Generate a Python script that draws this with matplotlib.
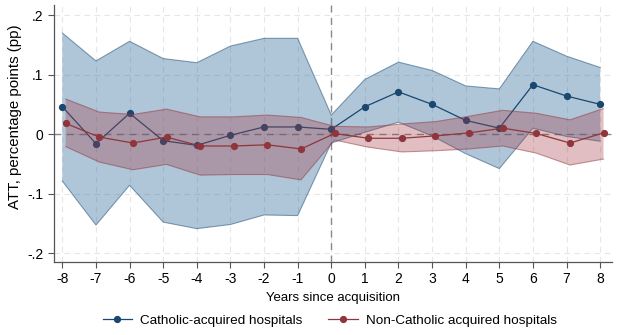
import matplotlib
matplotlib.use("Agg")
import matplotlib.pyplot as plt
import numpy as np
from matplotlib.lines import Line2D

plt.rcParams['font.family'] = ['Liberation Sans', 'DejaVu Sans']

years = list(range(-8, 9))

cath = [0.046, -0.016, 0.035, -0.011, -0.019, -0.002, 0.012, 0.012, 0.008,
        0.046, 0.071, 0.050, 0.023, 0.010, 0.083, 0.064, 0.050]
cath_hi = [0.170, 0.123, 0.156, 0.127, 0.120, 0.148, 0.161, 0.161, 0.032,
           0.092, 0.121, 0.107, 0.081, 0.076, 0.156, 0.131, 0.112]
cath_lo = [-0.079, -0.153, -0.086, -0.148, -0.159, -0.152, -0.136, -0.137, -0.015,
           0.003, 0.020, -0.003, -0.033, -0.058, 0.010, -0.004, -0.012]

noncath = [0.018, -0.005, -0.015, -0.005, -0.020, -0.020, -0.018, -0.025, 0.001,
           -0.007, -0.007, -0.003, 0.002, 0.010, 0.001, -0.015, 0.002]
noncath_hi = [0.059, 0.037, 0.033, 0.042, 0.029, 0.029, 0.032, 0.028, 0.013,
              0.012, 0.017, 0.021, 0.030, 0.040, 0.035, 0.024, 0.043]
noncath_lo = [-0.021, -0.047, -0.060, -0.051, -0.069, -0.068, -0.068, -0.077, -0.010,
              -0.022, -0.030, -0.028, -0.025, -0.020, -0.032, -0.052, -0.042]

yticks = [-0.2, -0.1, 0, 0.1, 0.2]
ytick_labels = ['-.2', '-.1', '0', '.1', '.2']
legend_labels = ['Catholic-acquired hospitals', 'Non-Catholic acquired hospitals']

navy = '#1a476f'
maroon = '#90353b'
blue_fill = '#2d6a9a'
red_fill = '#a23a45'

fig = plt.figure(figsize=(6.2, 3.35), dpi=100)
ax = fig.add_axes([0.087, 0.218, 0.900, 0.767])

x1 = np.array(years, dtype=float)
x2 = x1 + 0.1

# grid
for v in years:
    ax.axvline(v, color='#e6e6e6', lw=0.8, ls=(0, (5, 4)), zorder=0)
for v in yticks:
    ax.axhline(v, color='#e6e6e6', lw=0.8, ls=(0, (5, 4)), zorder=0)
ax.axhline(0, color='#8a8a8a', lw=1.0, ls=(0, (5, 4)), zorder=0.5)
ax.axvline(0, color='#8a8a8a', lw=1.0, ls=(0, (5, 4)), zorder=0.5)

ax.fill_between(x1, cath_lo, cath_hi, facecolor=blue_fill, alpha=0.38, edgecolor='none', zorder=1)
ax.plot(x1, cath_hi, color=navy, alpha=0.5, lw=0.8, zorder=1.1)
ax.plot(x1, cath_lo, color=navy, alpha=0.5, lw=0.8, zorder=1.1)
ax.plot(x1, cath, color=navy, lw=0.9, marker='o', ms=4.2, zorder=2)

ax.fill_between(x2, noncath_lo, noncath_hi, facecolor=red_fill, alpha=0.33, edgecolor='none', zorder=3)
ax.plot(x2, noncath_hi, color=maroon, alpha=0.5, lw=0.8, zorder=3.1)
ax.plot(x2, noncath_lo, color=maroon, alpha=0.5, lw=0.8, zorder=3.1)
ax.plot(x2, noncath, color=maroon, lw=0.9, marker='o', ms=4.2, zorder=4)

ax.set_xlim(-8.25, 8.35)
ax.set_ylim(-0.215, 0.217)
ax.set_xticks(years)
ax.set_xticklabels([str(v) for v in years])
ax.set_yticks(yticks)
ax.set_yticklabels(ytick_labels)
for s in ['top', 'right']:
    ax.spines[s].set_visible(False)
for s in ['left', 'bottom']:
    ax.spines[s].set_color('#555555')
    ax.spines[s].set_linewidth(0.9)
ax.tick_params(axis='both', colors='#555555', labelcolor='black', labelsize=10, length=4, width=0.8)
ax.set_xlabel('Years since acquisition', fontsize=9.5, labelpad=4)
ax.set_ylabel('ATT, percentage points (pp)', fontsize=10.8)
ax.yaxis.set_label_coords(-0.058, 0.565)

handles = [Line2D([0], [0], color=navy, lw=0.9, marker='o', ms=4.2),
           Line2D([0], [0], color=maroon, lw=0.9, marker='o', ms=4.2)]
fig.legend(handles, legend_labels, loc='center', bbox_to_anchor=(0.532, 0.043), ncol=2,
           frameon=False, fontsize=9.7, handlelength=2.2, columnspacing=1.9, handletextpad=0.6)

fig.savefig('out.png', dpi=100)
